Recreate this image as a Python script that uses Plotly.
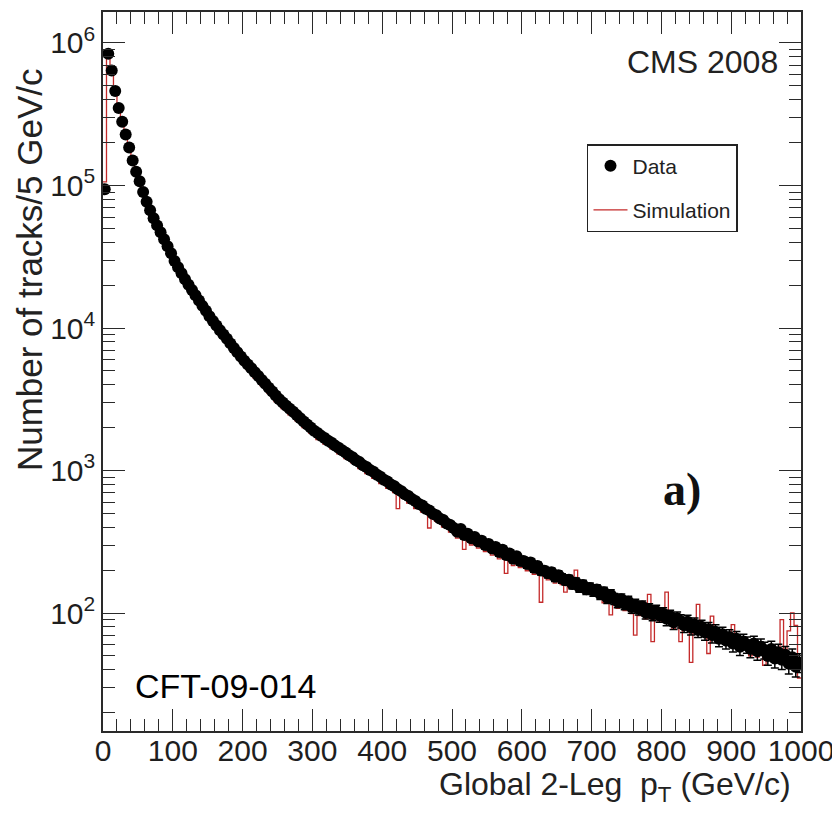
import numpy as np
import plotly.graph_objects as go

# ---- data ----
bin_width = 5.0  # GeV/c
pt_min, pt_max = 0.0, 1000.0

data_counts = [
    94000, 840000, 640000, 460000, 350000, 280000, 228000, 185000, 150000, 125000,
    107000, 90000, 77000, 67000, 59000, 52500, 47000, 42000, 37500, 33500,
    29500, 26700, 24200, 22000, 20100, 18500, 17000, 15600, 14300, 13200,
    12100, 11200, 10400, 9650, 9000, 8400, 7800, 7250, 6750, 6300,
    5900, 5550, 5210, 4890, 4600, 4320, 4060, 3810, 3580, 3360,
    3160, 3000, 2850, 2710, 2580, 2450, 2330, 2210, 2100, 2000,
    1900, 1830, 1750, 1690, 1620, 1565, 1495, 1445, 1385, 1340,
    1280, 1240, 1180, 1145, 1090, 1060, 1010, 980, 935, 905,
    862, 838, 798, 775, 738, 716, 680, 662, 630, 612,
    582, 568, 538, 525, 498, 486, 460, 450, 425, 415,
    395, 372, 388, 352, 360, 335, 342, 318, 322, 300,
    305, 284, 290, 268, 278, 255, 262, 240, 250, 232,
    232, 221, 226, 208, 214, 199, 198, 190, 193, 180,
    184, 175, 170, 171, 160, 163, 152, 157, 147, 150,
    143, 146, 136, 140, 128, 134, 126, 120, 125, 116,
    120, 110, 114, 107, 111, 101, 106, 98, 103, 96,
    99, 91, 95, 86, 92, 88, 82, 87, 79, 83,
    76, 80, 73, 77, 70, 74, 66, 71, 64, 68,
    61, 66, 58, 63, 60, 56, 61, 54, 58, 55,
    50, 56, 48, 53, 47, 51, 44, 49, 42, 45,
]

sim_counts = [
    106000, 850000, 630000, 455000, 345000, 276000, 225000, 182000, 148000, 123000,
    105000, 88500, 76000, 66000, 58000, 51500, 46500, 41000, 37000, 33000,
    29000, 26000, 23800, 21500, 19800, 18000, 16800, 15100, 14100, 12800,
    11700, 10600, 10100, 9000, 8750, 7800, 7550, 6700, 6550, 5850,
    5700, 5100, 5050, 4450, 4450, 3950, 3950, 3480, 3470, 3050,
    3080, 2720, 2780, 2460, 2510, 2230, 2270, 2000, 2050, 1820,
    1860, 1650, 1720, 1530, 1590, 1420, 1470, 1310, 1360, 1210,
    1250, 1130, 1150, 1030, 1060, 950, 985, 880, 910, 810,
    845, 750, 780, 700, 540, 650, 665, 590, 615, 540,
    570, 510, 525, 395, 488, 440, 450, 400, 415, 370,
    385, 335, 378, 280, 350, 300, 333, 285, 314, 270,
    298, 255, 283, 240, 270, 190, 255, 215, 244, 208,
    226, 198, 220, 187, 208, 119, 193, 171, 188, 162,
    180, 158, 140, 154, 156, 200, 148, 141, 143, 135,
    139, 132, 132, 118, 125, 97, 122, 108, 122, 104,
    117, 99, 70, 96, 108, 91, 135, 63, 100, 86,
    96, 140, 92, 77, 89, 63, 80, 78, 45, 81,
    115, 72, 71, 52, 95, 66, 64, 64, 62, 61,
    83, 59, 57, 56, 58, 50, 59, 49, 56, 43,
    49, 53, 46, 52, 90, 48, 75, 100, 82, 35,
]

x_tick_vals = [0, 100, 200, 300, 400, 500, 600, 700, 800, 900, 1000]
y_tick_vals = [1e2, 1e3, 1e4, 1e5, 1e6]
y_tick_text = ["10<sup>2</sup>", "10<sup>3</sup>", "10<sup>4</sup>",
               "10<sup>5</sup>", "10<sup>6</sup>"]

# ---- derived ----
edges = np.arange(pt_min, pt_max + bin_width / 2, bin_width)
centers = edges[:-1] + bin_width / 2
data_arr = np.array(data_counts, dtype=float)
data_err = np.sqrt(data_arr)
sim_step_y = list(sim_counts) + [sim_counts[-1]]

y_minor = [m * 10 ** e for e in range(1, 7) for m in range(2, 10)]

FONT = "Liberation Sans, Arial, Helvetica, sans-serif"
AX = "#2a2a2a"

fig = go.Figure()

fig.add_trace(go.Scatter(
    x=edges, y=sim_step_y, mode="lines", line_shape="hv",
    line=dict(color="#c42a2a", width=1.3),
    name="Simulation", legendrank=2, legendgroup="sim",
))

fig.add_trace(go.Scatter(
    x=centers, y=data_arr, mode="markers",
    marker=dict(color="black", size=12, symbol="circle"),
    error_y=dict(type="data", array=data_err, color="black",
                 thickness=1.5, width=4),
    name="Data", legendrank=1, legendgroup="data",
))

axis_common = dict(
    showline=True, linecolor=AX, linewidth=1.6, mirror="allticks",
    ticks="inside", tickcolor=AX, tickwidth=1.3, ticklen=22,
    showgrid=False, zeroline=False, automargin=False,
    tickfont=dict(family=FONT, size=30, color="#1e1e1e"),
)

fig.update_xaxes(
    range=[pt_min, pt_max], tickmode="array", tickvals=x_tick_vals,
    ticklabelstandoff=-8,
    minor=dict(dtick=20, tick0=0, ticks="inside", ticklen=12,
               tickwidth=1.1, tickcolor=AX, showgrid=False),
    **axis_common,
)
fig.update_yaxes(
    type="log", range=[1.172, 6.2175],
    tickmode="array", tickvals=y_tick_vals, ticktext=y_tick_text,
    minor=dict(tickmode="array", tickvals=y_minor, ticks="inside",
               ticklen=12, tickwidth=1.1, tickcolor=AX, showgrid=False),
    **axis_common,
)

fig.update_layout(
    width=840, height=813,
    margin=dict(l=95, r=47, t=4, b=90),
    paper_bgcolor="white", plot_bgcolor="white",
    showlegend=True,
    legend=dict(
        x=0.6934, y=0.8164, xanchor="left", yanchor="top",
        bordercolor="#222", borderwidth=1.5, bgcolor="white",
        font=dict(family=FONT, size=21, color="#222"),
        traceorder="grouped", tracegroupgap=14, itemwidth=34,
    ),
    annotations=[
        dict(text="CMS 2008", xref="paper", yref="paper",
             x=0.97, y=0.9305, xanchor="right", yanchor="middle",
             showarrow=False, font=dict(family=FONT, size=32, color="#222")),
        dict(text="<b>a)</b>", xref="paper", yref="paper",
             x=0.83, y=0.336, xanchor="center", yanchor="middle",
             showarrow=False,
             font=dict(family="Liberation Serif, Times New Roman, serif",
                       size=46, color="#111")),
        dict(text="CFT-09-014", xref="paper", yref="paper",
             x=0.043, y=0.0626, xanchor="left", yanchor="middle",
             showarrow=False, font=dict(family=FONT, size=34, color="black")),
        dict(text="Global 2-Leg  p<sub>T</sub> (GeV/c)", xref="paper", yref="paper",
             x=0.988, y=-0.077, xanchor="right", yanchor="middle",
             showarrow=False, font=dict(family=FONT, size=32, color="#222")),
        dict(text="Number of tracks/5 GeV/c", xref="paper", yref="paper",
             x=-0.105, y=0.642, xanchor="center", yanchor="middle",
             textangle=-90, showarrow=False,
             font=dict(family=FONT, size=35, color="#222")),
    ],
)

fig.write_html("out.html")
